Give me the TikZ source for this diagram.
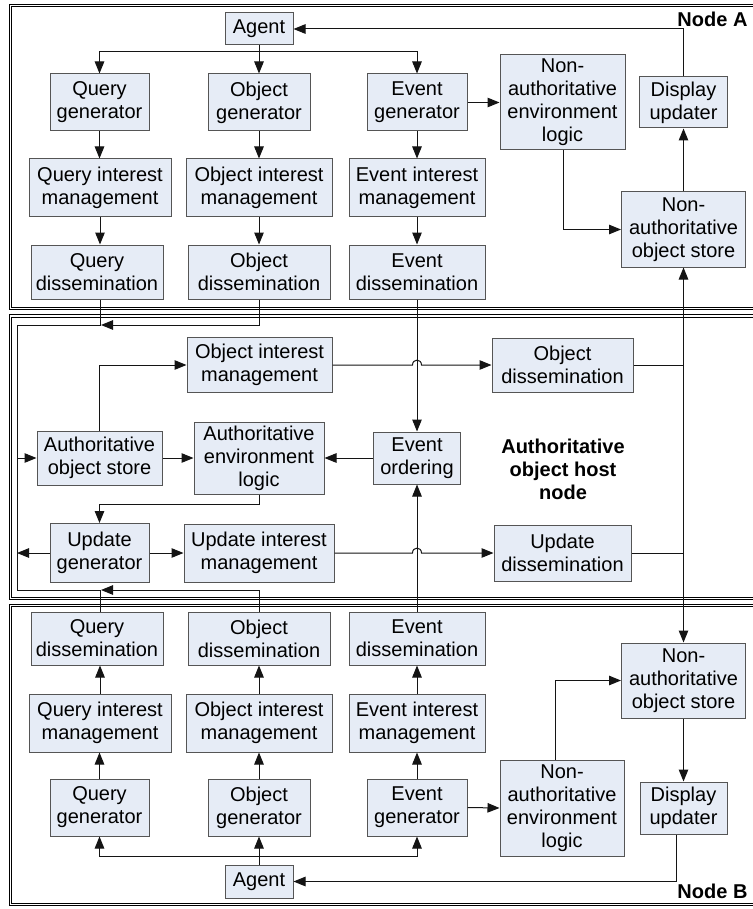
\documentclass[tikz,border=0pt]{standalone}
\usepackage{fontspec}
\setmainfont{Liberation Sans}
\usetikzlibrary{arrows.meta}
\definecolor{boxfill}{RGB}{230,236,246}
\definecolor{boxline}{RGB}{85,85,85}
\definecolor{wire}{RGB}{20,20,20}
\begin{document}
\begin{tikzpicture}[x=1pt,y=-1pt,
  box/.style={draw=boxline, fill=boxfill, line width=1pt, inner sep=0pt,
    align=center, font=\fontsize{20}{23}\selectfont},
  sz/.style 2 args={minimum width=#1pt, minimum height=#2pt},
  wire/.style={draw=wire, line width=1pt},
  tip/.tip={Triangle[length=12pt,width=9.5pt]},
  arr/.style={wire, -tip},
  biarr/.style={wire, tip-tip},
  frame/.style={draw=black, line width=1.1pt, double=white, double distance=1.3pt},
  lbl/.style={font=\fontsize{20}{23}\selectfont\bfseries, align=center}]

\useasboundingbox (0,0) rectangle (752,909);
\fill[white] (0,0) rectangle (752,909);

% ---------- section frames ----------
\draw[frame] (10.5,5.5) rectangle (760,308.5);
\draw[frame] (10.5,316) rectangle (760,598.5);
\draw[frame] (10.5,605.5) rectangle (760,904.5);

\node[lbl, anchor=base east] (labA) at (751,27) {Node A};
\node[lbl, anchor=base east] (labB) at (751,898) {Node B};
\node[lbl] (labM) at (563,469) {Authoritative\\object host\\node};

% ---------- Node A ----------
\node[box, sz={68}{32}]  (agentA) at (259,29)    {Agent};
\node[box, sz={99}{57}]  (qgA)    at (99.5,102.5) {Query\\generator};
\node[box, sz={102}{57}] (ogA)    at (259,102.5)  {Object\\generator};
\node[box, sz={100}{57}] (egA)    at (417,102.5)  {Event\\generator};
\node[box, sz={142}{58}] (qimA)   at (100,188)    {Query interest\\management};
\node[box, sz={146}{58}] (oimA)   at (259,188)    {Object interest\\management};
\node[box, sz={136}{58}] (eimA)   at (417,188)    {Event interest\\management};
\node[box, sz={132}{54}] (qdA)    at (97,272)     {Query\\dissemination};
\node[box, sz={142}{54}] (odA)    at (259,272)    {Object\\dissemination};
\node[box, sz={136}{54}] (edA)    at (417,272)    {Event\\dissemination};
\node[box, sz={125}{95}] (naelA)  at (562.5,102.5) {Non-\\authoritative\\environment\\logic};
\node[box, sz={88}{51}]  (duA)    at (683.5,102.5) {Display\\updater};
\node[box, sz={124}{75}] (naosA)  at (683.5,229.5) {Non-\\authoritative\\object store};

% ---------- authoritative host ----------
\node[box, sz={145}{55}] (oimM) at (259.5,365) {Object interest\\management};
\node[box, sz={141}{54}] (odM)  at (562.5,365) {Object\\dissemination};
\node[box, sz={125}{54}] (aos)  at (99.5,458)  {Authoritative\\object store};
\node[box, sz={130}{72}] (ael)  at (259,458)   {Authoritative\\environment\\logic};
\node[box, sz={87}{52}]  (eo)   at (417,458)   {Event\\ordering};
\node[box, sz={99}{59}]  (ug)   at (99.5,553)  {Update\\generator};
\node[box, sz={150}{58}] (uim)  at (259,553)   {Update interest\\management};
\node[box, sz={137}{56}] (udM)  at (562.5,553) {Update\\dissemination};

% ---------- Node B ----------
\node[box, sz={132}{53}] (qdB)    at (97,638.5)   {Query\\dissemination};
\node[box, sz={142}{53}] (odB)    at (259,638.5)  {Object\\dissemination};
\node[box, sz={136}{53}] (edB)    at (417,638.5)  {Event\\dissemination};
\node[box, sz={142}{58}] (qimB)   at (100,723)    {Query interest\\management};
\node[box, sz={146}{58}] (oimB)   at (259,723)    {Object interest\\management};
\node[box, sz={136}{58}] (eimB)   at (417,723)    {Event interest\\management};
\node[box, sz={99}{57}]  (qgB)    at (99.5,807.5) {Query\\generator};
\node[box, sz={102}{57}] (ogB)    at (259,807.5)  {Object\\generator};
\node[box, sz={100}{57}] (egB)    at (417,807.5)  {Event\\generator};
\node[box, sz={68}{33}]  (agentB) at (259,881.5)  {Agent};
\node[box, sz={124}{96}] (naelB)  at (562,808)    {Non-\\authoritative\\environment\\logic};
\node[box, sz={124}{75}] (naosB)  at (683.5,680.5) {Non-\\authoritative\\object store};
\node[box, sz={87}{52}]  (duB)    at (683.5,808)  {Display\\updater};

% ---------- connectors: Node A ----------
\coordinate (busA) at (259,52);
\draw[arr] (agentA.south) -- (ogA.north);
\draw[arr] (busA) -| (qgA.north);
\draw[arr] (busA) -| (egA.north);
\foreach \a/\b in {qgA/qimA, qimA/qdA, ogA/oimA, oimA/odA, egA/eimA, eimA/edA}
  \draw[arr] (\a.south) -- (\a.south |- \b.north);
\draw[arr] (egA.east) -- (naelA.west);
\draw[arr] ([xshift=0.5pt]naelA.south) |- (naosA.west);
\draw[arr] (naosA.north) -- (duA.south);
\draw[arr] (duA.north) |- (agentA.east);

% ---------- connectors: Node B ----------
\coordinate (busB) at (259,856);
\draw[arr] (agentB.north) -- (ogB.south);
\draw[arr] (busB) -| (qgB.south);
\draw[arr] (busB) -| (egB.south);
\foreach \a/\b in {qgB/qimB, qimB/qdB, ogB/oimB, oimB/odB, egB/eimB, eimB/edB}
  \draw[arr] (\a.north) -- (\a.north |- \b.south);
\draw[arr] (egB.east) -- (naelB.west);
\draw[arr] ([xshift=-7pt]naelB.north) |- (naosB.west);
\draw[arr] (naosB.south) -- (duB.north);
\draw[arr] ([xshift=-7.5pt]duB.south) |- (agentB.east);

% ---------- query / object bus on the left ----------
\coordinate (busTL) at (17,325);
\coordinate (busBL) at (17,590);
\draw[wire] (qimA.south |- qdA.south) |- (busTL) -- (busBL) -| (qimB.north |- qdB.north);
\draw[arr] (odA.south) |- (101,325);
\draw[arr] (odB.north) |- (101,590);
\draw[arr] (17,458) -- (aos.west);
\draw[arr] (ug.west) -- (17,553);

% ---------- authoritative host internals ----------
\draw[arr] (aos.north) |- (oimM.west);
\draw[arr] (aos.east) -- (ael.west);
\draw[arr] (eo.west) -- (ael.east);
\draw[arr] (ael.south) -- ++(0,10) -| (ug.north);
\draw[arr] (ug.east) -- (uim.west);
\draw[arr] (edA.south) -- (eo.north);
\draw[arr] (edB.north) -- (eo.south);
% horizontal lines hop over the event line
\draw[arr] (oimM.east) -- (412.5,365) .. controls (412.5,358.5) and (421.5,358.5) .. (421.5,365) -- (odM.west);
\draw[arr] (uim.east) -- (412.5,553) .. controls (412.5,546.5) and (421.5,546.5) .. (421.5,553) -- (udM.west);
\draw[wire] (odM.east) -- (683.5,365);
\draw[wire] (udM.east) -- (683.5,553);
\draw[biarr] (naosA.south) -- (naosB.north);

\end{tikzpicture}
\end{document}
